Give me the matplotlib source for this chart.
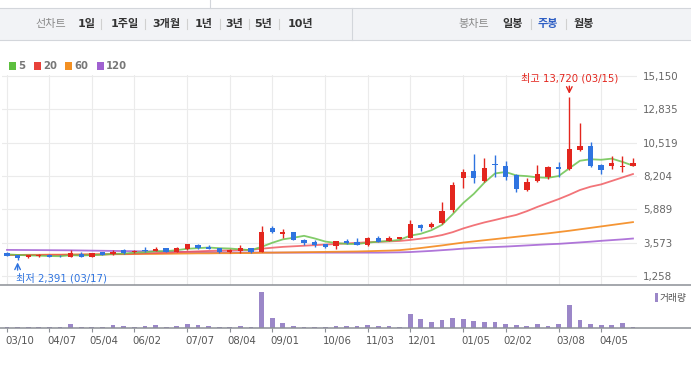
import matplotlib.pyplot as plt
from matplotlib.patches import Rectangle
from matplotlib.lines import Line2D

plt.rcParams['font.family'] = ['DejaVu Sans', 'Noto Sans CJK KR']

W, H = 691, 368

# 주봉 데이터 (60주)
opens = [2880, 2720, 2580, 2630, 2740, 2680, 2610, 2810, 2610, 2910,
         2770, 3050, 2940, 3050, 3000, 3210, 2930, 3140, 3420, 3280,
         3210, 2950, 2980, 3210, 2950, 4580, 4190, 4280, 3770, 3650,
         3510, 3370, 3720, 3650, 3400, 3930, 3720, 3840, 3930, 4790,
         4630, 4910, 5810, 8040, 8580, 7830, 9040, 8930, 8250, 7210,
         7830, 8130, 8830, 8720, 10040, 10320, 8970, 8930, 8850, 8930]
highs = [2910, 2740, 2740, 2790, 2760, 2700, 3070, 2890, 2870, 2950,
         3070, 3120, 3050, 3260, 3280, 3230, 3280, 3500, 3500, 3420,
         3230, 3120, 3420, 3230, 4750, 4700, 4540, 4330, 3800, 3770,
         3510, 3700, 3840, 3930, 3960, 4040, 4050, 3980, 5160, 4880,
         5020, 6420, 7790, 8720, 9760, 9460, 9640, 9230, 8350, 8040,
         8970, 8870, 9210, 13720, 11900, 10550, 9030, 9600, 9600, 9440]
lows = [2650, 2391, 2510, 2580, 2590, 2580, 2590, 2560, 2600, 2730,
        2700, 2810, 2880, 2900, 2990, 2890, 2920, 3050, 3120, 3140,
        2820, 2880, 2880, 2820, 2900, 4230, 3880, 3740, 3420, 3300,
        3230, 3150, 3490, 3380, 3350, 3610, 3700, 3800, 3900, 4350,
        4600, 4880, 5670, 7350, 7700, 7800, 8110, 7900, 7070, 7150,
        7800, 8000, 8110, 8600, 9930, 8810, 8320, 8720, 8460, 8930]
closes = [2680, 2490, 2720, 2720, 2610, 2620, 2840, 2610, 2860, 2750,
          2930, 2860, 3010, 2980, 3150, 2930, 3210, 3490, 3190, 3150,
          2910, 3090, 3210, 2890, 4330, 4300, 4280, 3770, 3540, 3420,
          3300, 3700, 3540, 3420, 3910, 3650, 3910, 3970, 4880, 4560,
          4880, 5790, 7600, 8510, 8040, 8790, 8960, 8110, 7300, 7810,
          8350, 8860, 8720, 10090, 10320, 8880, 8650, 9110, 8880, 9110]
volumes = [120, 120, 120, 120, 120, 120, 390, 120, 120, 120,
           300, 210, 120, 210, 300, 120, 210, 390, 300, 210,
           120, 120, 210, 120, 3270, 930, 480, 210, 120, 120,
           120, 210, 210, 210, 300, 210, 210, 120, 1290, 840,
           570, 750, 930, 840, 660, 570, 570, 390, 300, 210,
           390, 210, 390, 2100, 750, 390, 300, 300, 480, 120]

# 이동평균선
ma5 = [2760, 2720, 2690, 2670, 2644, 2632, 2702, 2680, 2708, 2736,
       2798, 2810, 2882, 2902, 2980, 2980, 3050, 3148, 3192, 3234,
       3188, 3166, 3108, 3048, 3284, 3564, 3802, 3914, 4048, 3866,
       3650, 3550, 3488, 3476, 3572, 3642, 3684, 3766, 4058, 4190,
       4436, 4812, 5542, 6326, 6964, 7746, 8382, 8484, 8242, 8196,
       8108, 8080, 8202, 8740, 9262, 9368, 9332, 9410, 9186, 8926]
ma20 = [2720, 2715, 2710, 2710, 2715, 2720, 2730, 2740, 2750, 2760,
        2770, 2790, 2810, 2830, 2850, 2870, 2900, 2940, 2970, 3000,
        3020, 3040, 3060, 3070, 3150, 3220, 3280, 3320, 3360, 3400,
        3440, 3480, 3520, 3560, 3600, 3630, 3660, 3690, 3760, 3850,
        3960, 4100, 4300, 4560, 4780, 4980, 5150, 5330, 5500, 5760,
        6060, 6330, 6600, 6900, 7230, 7460, 7620, 7860, 8100, 8340]
ma60 = [2720, 2720, 2730, 2730, 2740, 2740, 2750, 2750, 2760, 2760,
        2770, 2770, 2780, 2790, 2790, 2800, 2810, 2820, 2830, 2830,
        2840, 2840, 2850, 2850, 2870, 2880, 2890, 2900, 2910, 2920,
        2930, 2940, 2950, 2960, 2980, 3000, 3020, 3050, 3120, 3200,
        3290, 3380, 3480, 3580, 3660, 3740, 3820, 3900, 3980, 4060,
        4140, 4220, 4310, 4400, 4500, 4600, 4700, 4800, 4900, 5000]
ma120 = [3070, 3065, 3060, 3055, 3050, 3045, 3040, 3030, 3020, 3010,
         3000, 2990, 2980, 2970, 2960, 2950, 2940, 2930, 2920, 2910,
         2900, 2900, 2890, 2890, 2890, 2880, 2880, 2880, 2880, 2880,
         2880, 2880, 2880, 2880, 2880, 2880, 2890, 2900, 2920, 2960,
         3000, 3050, 3100, 3160, 3200, 3240, 3270, 3300, 3340, 3380,
         3420, 3460, 3490, 3540, 3590, 3640, 3700, 3750, 3800, 3860]

ytick_vals = [1258, 3573, 5889, 8204, 10519, 12835, 15150]
date_idx = [0, 4, 8, 12, 17, 21, 25, 30, 34, 38, 43, 47, 52, 56]
date_labels = ['03/10', '04/07', '05/04', '06/02', '07/07', '08/04', '09/01',
               '10/06', '11/03', '12/01', '01/05', '02/02', '03/08', '04/05']

RED = '#e3261e'
BLUE = '#2f74e0'
GRID = '#ebebeb'


def fx(px):
    return px / W


def fy(py):
    return 1 - py / H


fig = plt.figure(figsize=(W / 100, H / 100), dpi=100)

# ---- 상단 메뉴 바 ----
fig.add_artist(Rectangle((0, fy(40)), 1, 32 / H, transform=fig.transFigure,
                         facecolor='#f2f3f6', edgecolor='none'))
for yy in (8, 40):
    fig.add_artist(Line2D([0, 1], [fy(yy), fy(yy)], color='#d3d6db', lw=0.8))
fig.add_artist(Line2D([fx(210), fx(210)], [fy(0), fy(8)], color='#d3d6db', lw=0.8))
fig.add_artist(Line2D([fx(352), fx(352)], [fy(8), fy(40)], color='#d3d6db', lw=0.8))

fig.text(fx(50.5), fy(24), '선차트', ha='center', va='center', fontsize=8, color='#8a8a8a')
left_items = [('1일', 87), ('1주일', 124.5), ('3개월', 166), ('1년', 204),
              ('3년', 234.5), ('5년', 263), ('10년', 300.5)]
for lab, cx in left_items:
    fig.text(fx(cx), fy(24), lab, ha='center', va='center', fontsize=8,
             color='#333333', fontweight='bold')
for dx in (101, 145, 187, 220, 249, 279, 531, 566):
    fig.add_artist(Line2D([fx(dx), fx(dx)], [fy(19), fy(29)], color='#d0d0d0', lw=0.8))
fig.text(fx(473.5), fy(24), '봉차트', ha='center', va='center', fontsize=8, color='#8a8a8a')
for lab, cx, col in [('일봉', 513, '#333333'), ('주봉', 548, '#2f5fc4'), ('월봉', 584, '#333333')]:
    fig.text(fx(cx), fy(24), lab, ha='center', va='center', fontsize=8,
             color=col, fontweight='bold')

# ---- 이동평균 범례 ----
legend_items = [('5', '#5dbf3f', 9), ('20', '#e8413a', 34), ('60', '#f39022', 65), ('120', '#a061d1', 97)]
for lab, col, lx in legend_items:
    fig.add_artist(Rectangle((fx(lx), fy(69.5)), 7 / W, 7 / H, transform=fig.transFigure,
                             facecolor=col, edgecolor='none'))
    fig.text(fx(lx + 9), fy(66), lab, ha='left', va='center', fontsize=7.3,
             color='#777777', fontweight='bold')

# ---- 가격 차트 ----
ax = fig.add_axes([fx(2), fy(285), 635 / W, 209.7 / H])
x = list(range(len(closes)))
ax.set_xlim(-0.47, 59.38)
ax.set_ylim(631, 15200)

ax.plot(x, ma120, color='#a25ed3', lw=1.3, alpha=0.85, zorder=2)
ax.plot(x, ma60, color='#f48a1e', lw=1.3, alpha=0.9, zorder=2)
ax.plot(x, ma20, color='#ef5157', lw=1.3, alpha=0.8, zorder=2)
ax.plot(x, ma5, color='#6cc34f', lw=1.3, alpha=0.85, zorder=2)

colors = [RED if c >= o else BLUE for o, c in zip(opens, closes)]
bottoms = [min(o, c) for o, c in zip(opens, closes)]
heights = [max(abs(c - o), 60) for o, c in zip(opens, closes)]
ax.vlines(x, lows, highs, colors=colors, lw=1.0, zorder=3)
ax.bar(x, heights, bottom=bottoms, width=0.5, color=colors, zorder=4)

ax.set_yticks(ytick_vals)
ax.set_yticklabels([f'{v:,}' for v in ytick_vals])
ax.yaxis.tick_right()
ax.tick_params(axis='y', length=0, pad=4.3, labelsize=7.4, labelcolor='#666666')
ax.set_xticks(date_idx)
ax.tick_params(axis='x', length=0, labelbottom=False)
ax.grid(True, color=GRID, lw=0.8)
ax.set_axisbelow(True)
for s in ax.spines.values():
    s.set_visible(False)

# 최고 / 최저 표시
hi_i = highs.index(max(highs))
lo_i = lows.index(min(lows))
ax.annotate('', xy=(hi_i, highs[hi_i]), xytext=(0, 7.5), textcoords='offset points',
            arrowprops=dict(arrowstyle='->', color=RED, lw=1.0, shrinkA=0, shrinkB=2))
ax.annotate(f'최고 {highs[hi_i]:,} (03/15)', xy=(hi_i, highs[hi_i]), xytext=(0, 13),
            textcoords='offset points', ha='center', va='center', fontsize=7.3,
            color=RED, annotation_clip=False)
ax.annotate('', xy=(lo_i, lows[lo_i]), xytext=(0, -7.5), textcoords='offset points',
            arrowprops=dict(arrowstyle='->', color=BLUE, lw=1.0, shrinkA=0, shrinkB=2))
ax.annotate(f'최저 {lows[lo_i]:,} (03/17)', xy=(lo_i, lows[lo_i]), xytext=(-1.2, -13.3),
            textcoords='offset points', ha='left', va='center', fontsize=7.3,
            color=BLUE, annotation_clip=False)

# 구분선
fig.add_artist(Line2D([0, 1], [fy(285), fy(285)], color='#8c9096', lw=1.1))

# ---- 거래량 ----
ax2 = fig.add_axes([fx(2), fy(328.3), 635 / W, 43.3 / H])
ax2.set_xlim(-0.47, 59.38)
ax2.set_ylim(0, 3900)
ax2.bar(x, volumes, width=0.45, color='#9b87c8')
for s in ax2.spines.values():
    s.set_visible(False)
ax2.set_yticks([])
ax2.set_xticks(date_idx)
ax2.set_xticklabels([])
ax2.tick_params(axis='x', length=3, color='#8c9096', width=0.8)
for i, lab in zip(date_idx, date_labels):
    ax2.annotate(lab, xy=(i, 0), xytext=(-1.5, -9.5), textcoords='offset points',
                 ha='left', va='center', fontsize=7.3, color='#555555',
                 annotation_clip=False)
fig.add_artist(Line2D([0, 1], [fy(328.3), fy(328.3)], color='#8c9096', lw=1.1))

fig.add_artist(Rectangle((fx(655), fy(302)), 2.5 / W, 9 / H, transform=fig.transFigure,
                         facecolor='#9b87c8', edgecolor='none'))
fig.text(fx(660), fy(297.5), '거래량', ha='left', va='center', fontsize=7, color='#555555')

fig.savefig('out.png', dpi=100)
